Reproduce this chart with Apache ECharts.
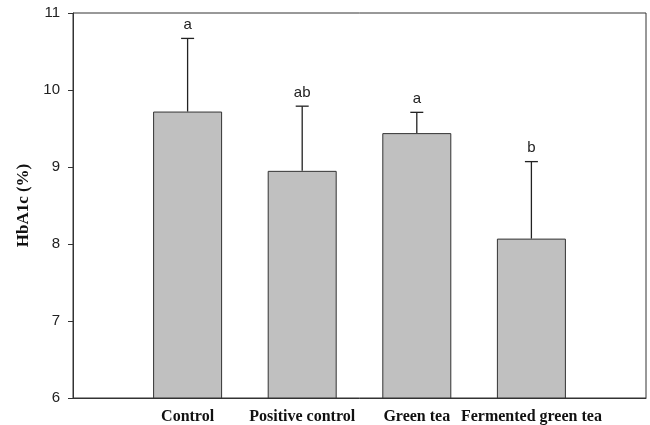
<!DOCTYPE html>
<html>
<head>
<meta charset="UTF-8">
<title>HbA1c</title>
<script src="https://cdn.jsdelivr.net/npm/echarts@6/dist/echarts.min.js"></script>
<style>
  html, body { margin: 0; padding: 0; background: #fff; }
  #chart { width: 650px; height: 425px; }
</style>
</head>
<body>
<div id="chart"></div>
<script>
const groups = ["Control", "Positive control", "Green tea", "Fermented green tea"];
const hba1c = [9.72, 8.95, 9.44, 8.07];
const errorUp = [0.95, 0.84, 0.27, 1.0];
const letters = ["a", "ab", "a", "b"];

const chart = echarts.init(document.getElementById("chart"));

const barData = hba1c.map((v, i) => [i + 1, v]);
const errData = hba1c.map((v, i) => [i + 1, v, v + errorUp[i], letters[i]]);

const option = {
  animation: false,
  grid: {
    left: 73, right: 4, top: 13, bottom: 26,
    show: true, borderColor: "#333", borderWidth: 1
  },
  xAxis: {
    type: "value",
    min: 0, max: 5, interval: 1,
    splitLine: { show: false },
    axisTick: { show: false },
    axisLine: { lineStyle: { color: "#333" } },
    axisLabel: {
      margin: 11,
      color: "#111",
      fontFamily: "Liberation Serif",
      fontWeight: "bold",
      fontSize: 16,
      formatter: (v) => groups[v - 1] || ""
    }
  },
  yAxis: {
    type: "value",
    min: 6, max: 11, interval: 1,
    name: "HbA1c (%)",
    nameLocation: "middle",
    nameGap: 41,
    nameTextStyle: {
      fontFamily: "Liberation Serif",
      fontWeight: "bold",
      fontSize: 17,
      color: "#111"
    },
    splitLine: { show: false },
    axisLine: { show: true, lineStyle: { color: "#333" } },
    axisTick: { show: true, inside: false, length: 5, lineStyle: { color: "#333" } },
    axisLabel: {
      margin: 13,
      color: "#222",
      fontFamily: "Liberation Sans",
      fontSize: 15
    }
  },
  series: [
    {
      type: "bar",
      data: barData,
      barWidth: 69,
      itemStyle: { color: "#c0c0c0", borderColor: "#333", borderWidth: 1 }
    },
    {
      type: "custom",
      data: errData,
      z: 5,
      clip: false,
      renderItem: (params, api) => {
        const base = api.coord([api.value(0), api.value(1)]);
        const top = api.coord([api.value(0), api.value(2)]);
        const label = errData[params.dataIndex][3];
        const style = { stroke: "#222", lineWidth: 1.3 };
        return {
          type: "group",
          children: [
            { type: "line", shape: { x1: base[0], y1: base[1], x2: top[0], y2: top[1] }, style },
            { type: "line", shape: { x1: top[0] - 6.5, y1: top[1], x2: top[0] + 6.5, y2: top[1] }, style },
            {
              type: "text",
              style: {
                text: label, x: top[0], y: top[1] - 6,
                align: "center", verticalAlign: "bottom",
                fontFamily: "Liberation Sans", fontSize: 15, fill: "#222"
              }
            }
          ]
        };
      }
    }
  ]
};

chart.setOption(option);
</script>
</body>
</html>
